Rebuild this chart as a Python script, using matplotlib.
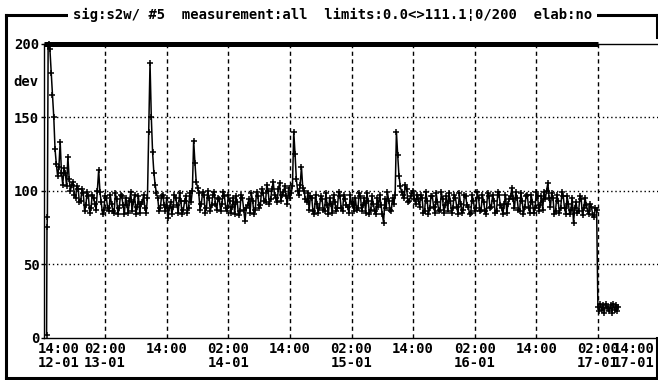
import numpy as np
import matplotlib
matplotlib.use("Agg")
import matplotlib.pyplot as plt
import matplotlib.transforms as mtransforms
from matplotlib.lines import Line2D

# ---- data (hours counted from 14:00 of 12-01) ----
start_hours = [0.6, 0.68, 0.76, 0.9, 1.05]
start_dev = [2, 75, 82, 198, 200]

# readings on the half hour (1.25, 1.75, ...)
main_t0 = 1.25
main_step = 0.5
main_dev = [
    196, 165, 128, 110, 133, 104, 112, 123, 100, 106, 95, 101,
    93, 98, 90, 96, 88, 95, 87, 114, 92, 87, 95, 86,
    91, 85, 94, 88, 96, 84, 90, 93, 86, 97, 89, 85,
    92, 88, 95, 187, 126, 104, 95, 88, 97, 86, 81, 92,
    89, 95, 85, 93, 87, 96, 88, 92, 134, 106, 98, 91,
    97, 88, 95, 90, 99, 87, 94, 91, 96, 86, 93, 89,
    84, 92, 86, 95, 79, 90, 85, 93, 87, 96, 90, 98,
    92, 100, 94, 106, 95, 101, 93, 99, 96, 102, 98, 140,
    108, 97, 116, 100, 92, 87, 95, 84, 91, 88, 94, 86,
    90, 95, 85, 92, 88, 96, 86, 94, 89, 97, 92, 95,
    88, 96, 90, 85, 93, 87, 91, 84, 89, 90, 78, 88,
    93, 86, 91, 140, 110, 99, 95, 101, 93, 98, 94, 97,
    89, 95, 86, 93, 88, 96, 85, 92, 87, 94, 90, 86,
    93, 88, 95, 84, 91, 87, 96, 89, 85, 93, 88, 95,
    87, 92, 84, 96, 89, 93, 86, 97, 88, 91, 85, 94,
    102, 88, 95, 86, 93, 89, 97, 85, 92, 88, 96, 90,
    87, 94, 105, 89, 95, 86, 93, 88, 96, 84, 91, 87,
    78, 92, 86, 94, 88, 90, 84, 89, 82, 87,
]

# readings in between (1.5, 2.0, ...)
mid_t0 = 1.5
mid_step = 0.5
mid_dev = [
    180, 150, 118, 116, 112, 115, 103, 108, 104, 97, 103, 92,
    101, 86, 99, 85, 97, 91, 100, 99, 84, 96, 88, 97,
    86, 98, 84, 97, 90, 95, 85, 99, 92, 84, 96, 91,
    97, 85, 140, 150, 112, 98, 86, 96, 90, 95, 88, 84,
    97, 90, 98, 84, 93, 85, 98, 100, 119, 102, 87, 99,
    85, 100, 86, 97, 91, 95, 86, 99, 88, 97, 85, 95,
    96, 83, 97, 87, 88, 94, 98, 84, 99, 88, 101, 93,
    104, 91, 101, 97, 92, 105, 97, 103, 91, 95, 103, 125,
    100, 104, 102, 94, 98, 96, 86, 97, 85, 96, 87, 98,
    84, 91, 97, 86, 99, 88, 97, 90, 85, 91, 86, 87,
    98, 86, 95, 98, 84, 96, 86, 95, 97, 84, 94, 99,
    87, 95, 97, 124, 103, 97, 104, 92, 96, 100, 91, 94,
    97, 85, 99, 84, 96, 89, 98, 86, 99, 85, 96, 98,
    85, 97, 89, 98, 85, 97, 90, 84, 97, 86, 99, 86,
    97, 86, 98, 88, 97, 85, 99, 90, 84, 97, 91, 96,
    94, 99, 87, 98, 84, 96, 88, 97, 85, 99, 86, 96,
    99, 100, 95, 98, 84, 97, 85, 99, 88, 96, 84, 95,
    88, 85, 96, 83, 95, 86, 91, 83, 88,
]

tail_t0 = 108.0
tail_step = 0.25
tail_dev = [21, 18, 23, 19, 22, 17, 23, 20, 21, 18, 22, 17, 23, 19, 22, 18, 21]

tick_hours = [0, 12, 24, 36, 48, 60, 72, 84, 96, 108, 120]
tick_labels = ["14:00\n12-01", "02:00\n13-01", "14:00", "02:00\n14-01", "14:00",
               "02:00\n15-01", "14:00", "02:00\n16-01", "14:00", "02:00\n17-01",
               "14:00\n17-01"]
y_ticks = [0, 50, 100, 150, 200]
limit_bar = [0, 108]   # thick bar at the top, hours
title = "sig:s2w/ #5  measurement:all  limits:0.0<>111.1\u00a60/200  elab:no"

# ---- build series ----
main_hours = main_t0 + main_step * np.arange(len(main_dev))
mid_hours = mid_t0 + mid_step * np.arange(len(mid_dev))
tail_hours = tail_t0 + tail_step * np.arange(len(tail_dev))
body_hours = np.concatenate([main_hours, mid_hours])
body_dev = np.concatenate([main_dev, mid_dev])
order = np.argsort(body_hours)
hours = np.concatenate([start_hours, body_hours[order], tail_hours])
dev = np.concatenate([start_dev, body_dev[order], tail_dev])

W, H = 658, 380
MONO = "DejaVu Sans Mono"
plt.rcParams["font.family"] = MONO
plt.rcParams["font.weight"] = "bold"


def fx(px):
    return px / W


def fy(py):
    return 1 - py / H


fig = plt.figure(figsize=(W / 100, H / 100), dpi=100)
fig.patch.set_facecolor("white")

ax = fig.add_axes([fx(43.5), fy(337.5), 616 / W, 294 / H])
ax.set_xlim(0, 120)
ax.set_ylim(0, 200)

# grid
for yv in [50, 100, 150]:
    ax.axhline(yv, color="black", lw=1.0, dashes=(1, 2), zorder=1)
for xv in tick_hours[1:-1]:
    ax.axvline(xv, color="black", lw=1.0, dashes=(3, 2.5), zorder=1)

# series
ax.plot(hours, dev, color="black", lw=1.1, marker="+", ms=4.5,
        mec="black", mew=1.1, zorder=3, clip_on=False)

# thick bar at the top
ax.plot(limit_bar, [200, 200], color="black", lw=3.6,
        solid_capstyle="butt", zorder=4, clip_on=False)

# spines
for side in ["left", "bottom", "top"]:
    ax.spines[side].set_linewidth(1.0)
ax.spines["right"].set_visible(False)

# ticks
ax.set_yticks(y_ticks)
ax.set_yticklabels([str(v) for v in y_ticks])
ax.tick_params(axis="y", length=2.5, width=1, pad=0.5, labelsize=10)
ax.set_xticks(tick_hours)
ax.set_xticklabels(tick_labels, linespacing=1.05)
ax.tick_params(axis="x", length=0, pad=3, labelsize=10)

xticks = ax.xaxis.get_major_ticks()
first = xticks[0].label1
first.set_ha("left")
first.set_transform(first.get_transform() +
                    mtransforms.ScaledTranslation(-5.5 / 100, 0, fig.dpi_scale_trans))
last = xticks[-1].label1
last.set_ha("right")
last.set_transform(last.get_transform() +
                   mtransforms.ScaledTranslation(-4.5 / 100, 0, fig.dpi_scale_trans))

# y label
fig.text(fx(25.5), fy(82), "dev", ha="center", va="center", fontsize=10)

# outer frame
frame_lw = 2.2
segments = [
    ([6, 6], [14.5, 377.5]),
    ([6, 657], [14.5, 14.5]),
    ([656.8, 656.8], [14.5, 37]),
    ([656.8, 656.8], [338, 377.5]),
    ([6, 658], [377.5, 377.5]),
]
for xs, ys in segments:
    fig.add_artist(Line2D([fx(v) for v in xs], [fy(v) for v in ys],
                          color="black", lw=frame_lw, transform=fig.transFigure,
                          solid_capstyle="projecting"))

fig.text(fx(332.5), fy(15), title, ha="center", va="center", fontsize=10,
         zorder=5, bbox=dict(fc="white", ec="none", pad=3.5))

fig.savefig("out.png", dpi=100)
